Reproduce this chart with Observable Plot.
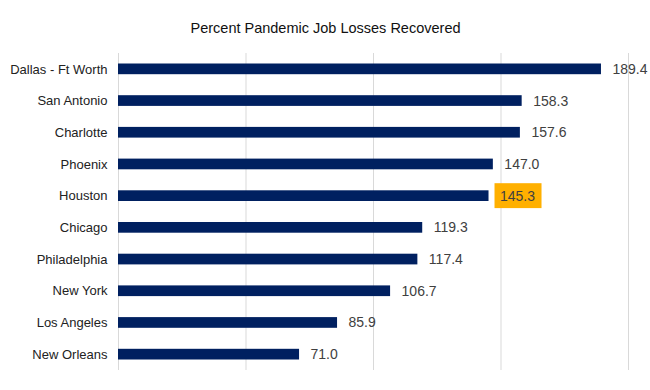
<!DOCTYPE html>
<html>
<head>
<meta charset="utf-8">
<script src="https://cdn.jsdelivr.net/npm/d3@7"></script>
<script src="https://cdn.jsdelivr.net/npm/@observablehq/plot@0.6"></script>
<style>
  html, body { margin: 0; padding: 0; background: #fff; }
  #chart svg { display: block; }
</style>
</head>
<body>
<div id="chart"></div>
<script>
const title = "Percent Pandemic Job Losses Recovered";
const cities = ["Dallas - Ft Worth", "San Antonio", "Charlotte", "Phoenix", "Houston",
                "Chicago", "Philadelphia", "New York", "Los Angeles", "New Orleans"];
const values = [189.4, 158.3, 157.6, 147.0, 145.3, 119.3, 117.4, 106.7, 85.9, 71.0];
const highlighted = ["Houston"];
const gridTicks = [0, 50, 100, 150, 200];

const data = cities.map((city, i) => ({city, value: values[i]}));
const hiData = data.filter(d => highlighted.includes(d.city));
const font = "'Liberation Sans', Arial, Helvetica, sans-serif";

const chart = Plot.plot({
  width: 650,
  height: 390,
  marginTop: 53,
  marginBottom: 20,
  marginLeft: 118,
  marginRight: 22,
  style: {fontFamily: font, fontSize: "13px", color: "#222", background: "#fff"},
  x: {domain: [0, 200], axis: null},
  y: {domain: cities, padding: 0, round: false, label: null, tickSize: 0, tickPadding: 11},
  marks: [
    Plot.ruleX(gridTicks, {stroke: "#d9d9d9", strokeWidth: 1}),
    Plot.barX(data, {x1: 0, x2: "value", y: "city", fill: "#002060", insetTop: 10.5, insetBottom: 10.5}),
    Plot.barX(hiData, {x1: "value", x2: "value", y: "city", fill: "#FFB000",
      insetLeft: 6, insetRight: -53, insetTop: 3.4, insetBottom: 3.4}),
    Plot.text(data, {x: "value", y: "city", text: d => d.value.toFixed(1),
      textAnchor: "start", dx: 11, fontSize: 14, fill: "#404040", fontFamily: font}),
    Plot.text([title], {frameAnchor: "top", dy: -31, dx: -48, fontSize: 14.5, fill: "#111", fontFamily: font})
  ]
});
document.getElementById("chart").appendChild(chart);
</script>
</body>
</html>
